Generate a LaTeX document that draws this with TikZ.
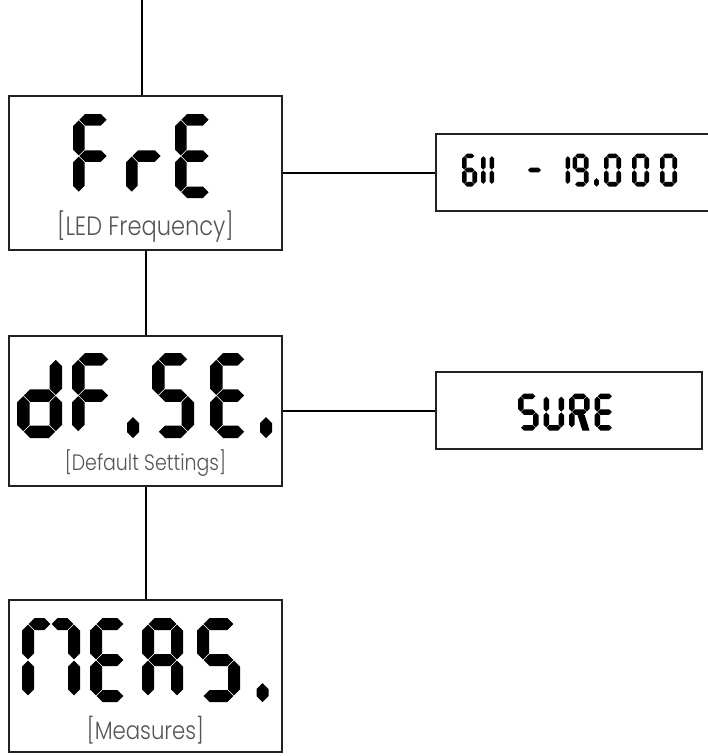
\documentclass[tikz,border=0pt]{standalone}
\usepackage{fontspec}
\newfontfamily\lbl{Poppins Light}[FakeStretch=0.85]
\definecolor{boxc}{HTML}{222222}
\definecolor{subc}{HTML}{555555}
\newcommand\setdig[5]{%
 \pgfmathsetmacro\dL{#1}\pgfmathsetmacro\dT{#2}\pgfmathsetmacro\dW{#3}\pgfmathsetmacro\dH{#4}%
 \pgfmathsetmacro\dt{#5}\pgfmathsetmacro\sh{#5/2}%
 \pgfmathsetmacro\xl{#1+#5/2}\pgfmathsetmacro\xr{#1+#3-#5/2}%
 \pgfmathsetmacro\yt{#2+#5/2}\pgfmathsetmacro\ym{#2+#4/2}\pgfmathsetmacro\yb{#2+#4-#5/2}%
 \pgfmathsetmacro\xm{#1+#3/2}}
\newcommand\hseg[3]{\fill ({#1},{#3}) -- ({#1+\sh},{#3-\sh}) -- ({#2-\sh},{#3-\sh}) -- ({#2},{#3}) -- ({#2-\sh},{#3+\sh}) -- ({#1+\sh},{#3+\sh}) -- cycle;}
\newcommand\vseg[3]{\fill ({#1},{#2}) -- ({#1+\sh},{#2+\sh}) -- ({#1+\sh},{#3-\sh}) -- ({#1},{#3}) -- ({#1-\sh},{#3-\sh}) -- ({#1-\sh},{#2+\sh}) -- cycle;}
\newcommand\sdot[4]{\fill ({#1},{#2}) -- ({#1+#4},{#2+#4}) -- ({#1+#4},{#3-#4}) -- ({#1},{#3}) -- ({#1-#4},{#3-#4}) -- ({#1-#4},{#2+#4}) -- cycle;}
\newcommand\sgA{\hseg{\xl+\gp}{\xr-\gp}{\yt}}
\newcommand\sgG{\hseg{\xl+\gp}{\xr-\gp}{\ym}}
\newcommand\sgD{\hseg{\xl+\gp}{\xr-\gp}{\yb}}
\newcommand\sgF{\vseg{\xl}{\yt+\gp}{\ym-\gp}}
\newcommand\sgB{\vseg{\xr}{\yt+\gp}{\ym-\gp}}
\newcommand\sgE{\vseg{\xl}{\ym+\gp}{\yb-\gp}}
\newcommand\sgC{\vseg{\xr}{\ym+\gp}{\yb-\gp}}
\newcommand\sgAl{\hseg{\xl+\gp}{\xm-\gp}{\yt}}
\newcommand\sgAr{\hseg{\xm+\gp}{\xr-\gp}{\yt}}
\newcommand\sgR{\fill ({\dL+0.42*\dW},{\ym+\sh+\gp}) -- ({\dL+0.42*\dW+1.3*\dt},{\ym+\sh+\gp}) -- ({\dL+\dW},{\dT+\dH}) -- ({\dL+\dW-1.3*\dt},{\dT+\dH}) -- cycle;}
\newcommand\dig[6]{\setdig{#1}{#2}{#3}{#4}{#5}#6}
\tikzset{
 box/.style={draw=boxc, line width=2.2pt, text opacity=0, font=\lbl\Large, inner sep=0pt},
 sub/.style={font=\lbl\fontsize{26.5}{30}\selectfont, text=subc, inner sep=0pt, anchor=base},
 submid/.style={sub, font=\lbl\fontsize{25}{30}\selectfont},
 subsmall/.style={sub, font=\lbl\fontsize{22.3}{26}\selectfont},
 link/.style={line width=2pt, draw=black}
}
\begin{document}
\begin{tikzpicture}[x=1pt,y=-1pt]
\useasboundingbox (0,0) rectangle (708,756);
% boxes
\node[box, minimum width=273pt, minimum height=154pt] (fre) at (145.5,173) {FrE};
\node[box, minimum width=273pt, minimum height=150pt] (dfse) at (145.5,411) {dF.SE.};
\node[box, minimum width=273pt, minimum height=152pt] (meas) at (145.5,676) {MEAS.};
\node[box, minimum width=274pt, minimum height=77pt] (rng) at (573,172.5) {611 - 19.000};
\node[box, minimum width=266pt, minimum height=77pt] (sure) at (569,410.5) {SURE};
% subtitles
\node[sub] (fresub) at (145.5,235) {[LED Frequency]};
\node[subsmall] (dfsesub) at (145.5,470) {[Default Settings]};
\node[submid] (meassub) at (145.5,739) {[Measures]};
% connectors
\coordinate (top) at (142,0);
\draw[link] (top) -- (top |- fre.north);
\draw[link] (fre.south) -- (dfse.north);
\draw[link] (dfse.south) -- (meas.north);
\draw[link] (fre.east) -- (fre.east -| rng.west);
\draw[link] (dfse.east) -- (dfse.east -| sure.west);
% FrE
\def\gp{0.7}
\dig{73}{114}{40}{84}{11.5}{\sgA\sgF\sgG\sgE}
\dig{126}{114}{41}{84}{11.5}{\sgG\sgE}
\dig{175}{114}{40}{84}{11.5}{\sgA\sgF\sgG\sgE\sgD}
% dF.SE.
\dig{17}{353}{45}{85}{12.5}{\sgB\sgC\sgD\sgE\sgG}
\dig{72}{353}{43}{85}{12.5}{\sgA\sgF\sgG\sgE}
\sdot{133}{417}{438}{6}
\dig{152}{353}{42}{85}{12.5}{\sgA\sgF\sgG\sgC\sgD}
\dig{210}{353}{41}{85}{12.5}{\sgA\sgF\sgG\sgE\sgD}
\sdot{266}{417}{438}{6}
% MEAS.
\dig{22}{618}{58}{84}{12}{\sgAl\sgAr\sgF\sgE\sgB\sgC}
\dig{90}{618}{40}{84}{12}{\sgA\sgF\sgG\sgE\sgD}
\dig{142}{618}{41}{84}{12}{\sgA\sgB\sgC\sgE\sgF\sgG}
\dig{197}{618}{43}{84}{12}{\sgA\sgF\sgG\sgC\sgD}
\sdot{262.5}{683}{702}{6}
% 611 - 19.000
\def\gp{0.4}
\dig{462}{153.5}{15}{33}{4.6}{\sgA\sgF\sgG\sgE\sgD\sgC}
\dig{481}{153.5}{4.6}{33}{4.6}{\sgB\sgC}
\dig{489.5}{153.5}{4.6}{33}{4.6}{\sgB\sgC}
\hseg{528}{541}{170}
\dig{565.5}{153.5}{4.6}{33}{4.6}{\sgB\sgC}
\dig{572.5}{153.5}{16}{33}{4.6}{\sgA\sgB\sgC\sgD\sgF\sgG}
\sdot{596.5}{178}{186.5}{2.3}
\dig{604}{153.5}{17}{33}{4.6}{\sgA\sgB\sgC\sgD\sgE\sgF}
\dig{632}{153.5}{17}{33}{4.6}{\sgA\sgB\sgC\sgD\sgE\sgF}
\dig{660}{153.5}{17}{33}{4.6}{\sgA\sgB\sgC\sgD\sgE\sgF}
% SURE
\def\gp{0.45}
\dig{518}{393.5}{20.5}{37}{5.5}{\sgA\sgF\sgG\sgC\sgD}
\dig{543.5}{393.5}{20.5}{37}{5.5}{\sgF\sgE\sgD\sgB\sgC}
\dig{569}{393.5}{20.5}{37}{5.5}{\sgA\sgF\sgE\sgB\sgG\sgR}
\dig{594.5}{393.5}{20.5}{37}{5.5}{\sgA\sgF\sgG\sgE\sgD}
\end{tikzpicture}
\end{document}
